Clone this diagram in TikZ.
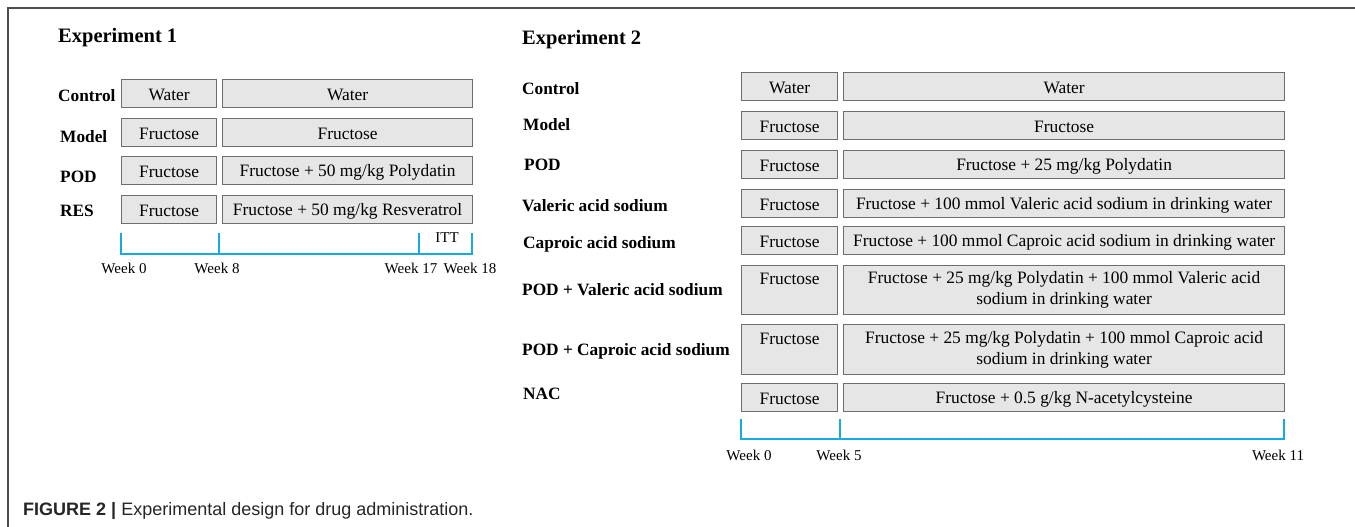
\documentclass[tikz,border=0pt]{standalone}
\usepackage{fontspec}
\setmainfont{Liberation Serif}
\newfontfamily\capfont{Liberation Sans}
\definecolor{tlblue}{RGB}{20,170,226}
\definecolor{cellfill}{RGB}{230,230,230}
\definecolor{celldraw}{RGB}{110,110,110}
\tikzset{
  cell/.style={draw=celldraw,fill=cellfill,line width=1.2pt,inner sep=0pt,anchor=north west,
    minimum height=28pt,align=center,font=\fontsize{17.4}{21}\selectfont,
    execute at begin node={\rule[-1pt]{0pt}{16pt}}},
  grp/.style={anchor=base west,inner sep=0pt,font=\bfseries\fontsize{17.3}{21}\selectfont},
  ttl/.style={anchor=base west,inner sep=0pt,font=\bfseries\fontsize{20.5}{24}\selectfont},
  wk/.style={inner sep=0pt,font=\fontsize{15}{18}\selectfont},
  tl/.style={draw=tlblue,line width=2pt},
}

\begin{document}
\begin{tikzpicture}[x=1pt,y=-1pt]
\useasboundingbox (0,0) rectangle (1355,527);
\draw[line width=1.2pt,draw=black!70] (8,527) -- (8,8) -- (1355,8);

% experiment 1
\node[ttl] (ex1) at (58,43) {Experiment 1};
\node[grp] (g1ctl) at (58,101) {Control};
\node[grp] (g1mod) at (60,142) {Model};
\node[grp] (g1pod) at (60,182) {POD};
\node[grp] (g1res) at (60,216) {RES};
\node[cell,minimum width=95pt] (a1) at (121,79) {Water};
\node[cell,minimum width=250pt] (b1) at (222,79) {Water};
\node[cell,minimum width=95pt] (a2) at (121,118) {Fructose};
\node[cell,minimum width=250pt] (b2) at (222,118) {Fructose};
\node[cell,minimum width=95pt] (a3) at (121,156) {Fructose};
\node[cell,minimum width=250pt] (b3) at (222,156) {Fructose + 50 mg/kg Polydatin};
\node[cell,minimum width=95pt] (a4) at (121,195) {Fructose};
\node[cell,minimum width=250pt] (b4) at (222,195) {Fructose + 50 mg/kg Resveratrol};

% timeline 1
\coordinate (p0) at (121,233); \coordinate (q0) at (121,254);
\coordinate (p8) at (219,233); \coordinate (q8) at (219,254);
\coordinate (p17) at (419,233); \coordinate (q17) at (419,254);
\coordinate (p18) at (472,233); \coordinate (q18) at (472,254);
\draw[tl] (p0) -- (q0) -- (q18) -- (p18);
\draw[tl] (p8) -- (q8);
\draw[tl] (p17) -- (q17);
\node[wk] (itt) at (447,238) {ITT};
\node[wk] (w0) at (124,268) {Week 0};
\node[wk] (w8) at (217,268) {Week 8};
\node[wk] (w17) at (411,268) {Week 17};
\node[wk] (w18) at (470,268) {Week 18};

% experiment 2
\node[ttl] (ex2) at (522,45) {Experiment 2};
\node[grp] (g2ctl) at (522,94) {Control};
\node[grp] (g2mod) at (523,130) {Model};
\node[grp] (g2pod) at (524,170) {POD};
\node[grp] (g2val) at (522,211) {Valeric acid sodium};
\node[grp] (g2cap) at (523,248) {Caproic acid sodium};
\node[grp] (g2pv) at (522,295) {POD + Valeric acid sodium};
\node[grp] (g2pc) at (522,355) {POD + Caproic acid sodium};
\node[grp] (g2nac) at (523,399) {NAC};
\node[cell,minimum width=96pt] (c1) at (741,72) {Water};
\node[cell,minimum width=441pt] (d1) at (843,72) {Water};
\node[cell,minimum width=96pt] (c2) at (741,111) {Fructose};
\node[cell,minimum width=441pt] (d2) at (843,111) {Fructose};
\node[cell,minimum width=96pt] (c3) at (741,150) {Fructose};
\node[cell,minimum width=441pt] (d3) at (843,150) {Fructose + 25 mg/kg Polydatin};
\node[cell,minimum width=96pt] (c4) at (741,189) {Fructose};
\node[cell,minimum width=441pt] (d4) at (843,189) {Fructose + 100 mmol Valeric acid sodium in drinking water};
\node[cell,minimum width=96pt] (c5) at (741,226) {Fructose};
\node[cell,minimum width=441pt] (d5) at (843,226) {Fructose + 100 mmol Caproic acid sodium in drinking water};
\node[cell,minimum width=96pt,minimum height=49pt] (c6) at (741,265) {Fructose\\\rule[-1pt]{0pt}{1pt}};
\node[cell,minimum width=441pt,minimum height=49pt] (d6) at (843,265) {Fructose + 25 mg/kg Polydatin + 100 mmol Valeric acid\\sodium in drinking water};
\node[cell,minimum width=96pt,minimum height=50pt] (c7) at (741,324) {Fructose\\\rule[-1pt]{0pt}{1pt}};
\node[cell,minimum width=441pt,minimum height=50pt] (d7) at (843,324) {Fructose + 25 mg/kg Polydatin + 100 mmol Caproic acid\\sodium in drinking water};
\node[cell,minimum width=96pt] (c8) at (741,383) {Fructose};
\node[cell,minimum width=441pt] (d8) at (843,383) {Fructose + 0.5 g/kg N-acetylcysteine};

% timeline 2
\coordinate (r0) at (741,419); \coordinate (s0) at (741,439);
\coordinate (r5) at (840,419); \coordinate (s5) at (840,439);
\coordinate (r11) at (1284,419); \coordinate (s11) at (1284,439);
\draw[tl] (r0) -- (s0) -- (s11) -- (r11);
\draw[tl] (r5) -- (s5);
\node[wk] (v0) at (749,455) {Week 0};
\node[wk] (v5) at (839,455) {Week 5};
\node[wk] (v11) at (1278,455) {Week 11};

% caption
\node[anchor=base west,inner sep=0pt,text=black!85,font=\capfont\fontsize{18}{21}\selectfont] (fig) at (23,515)
  {\textbf{FIGURE 2 |} Experimental design for drug administration.};
\end{tikzpicture}
\end{document}
